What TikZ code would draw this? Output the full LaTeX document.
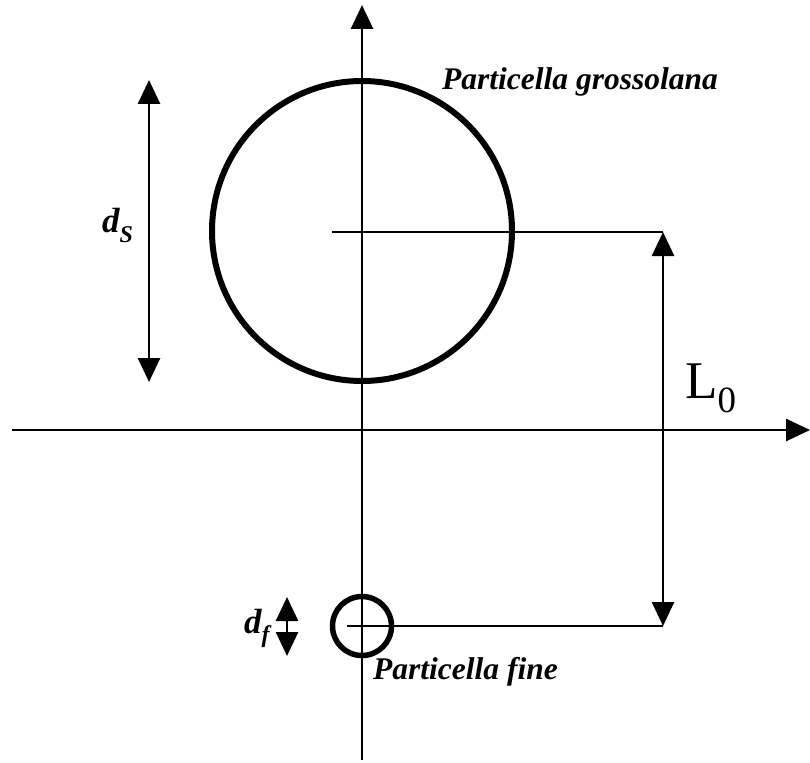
\documentclass[tikz,border=0pt]{standalone}
\usepackage{fontspec}
\setmainfont{Liberation Serif}
\usetikzlibrary{arrows.meta}
\tikzset{
  axis/.style={line width=2.7pt},
  thin line/.style={line width=2.7pt},
  particle/.style={circle, draw, line width=6pt, inner sep=0pt},
  bigtip/.style={-{Triangle[width=22pt,length=24pt]}},
  dbltip/.style={{Triangle[width=22pt,length=24pt]}-{Triangle[width=22pt,length=24pt]}},
  lbl/.style={inner sep=0pt, font=\fontsize{31.5}{36}\selectfont\bfseries\itshape},
  symlbl/.style={inner sep=0pt, font=\fontsize{35}{40}\selectfont\bfseries\itshape},
}
\begin{document}
\begin{tikzpicture}[x=1pt,y=-1pt]
\useasboundingbox (0,0) rectangle (810,762);
% axes
\coordinate (yb) at (362,760);
\coordinate (yt) at (362,5);
\coordinate (xl) at (12,430);
\coordinate (xr) at (810,430);
\draw[axis,bigtip] (yb) -- (yt);
\draw[axis,bigtip] (xl) -- (xr);
% particles
\node[particle, minimum size=300pt] (big) at (362,231) {};
\node[particle, line width=5.5pt, minimum size=59pt] (small) at (362,626) {};
% reference lines
\coordinate (bigL) at (332,232);
\coordinate (bigR) at (663,232);
\coordinate (smL) at (347,626);
\coordinate (smR) at (663,626);
\draw[thin line] (bigL) -- (bigR);
\draw[thin line] (smL) -- (smR);
\draw[thin line,dbltip] (bigR) -- (smR);
% ds arrow
\coordinate (dsT) at (149,80);
\coordinate (dsB) at (149,382);
\draw[thin line,dbltip] (dsT) -- (dsB);
% df arrow
\coordinate (dfM1) at (287,618);
\coordinate (dfM2) at (287,634);
\coordinate (dfT) at (287,597);
\coordinate (dfB) at (287,656);
\draw[thin line,bigtip] (dfM2) -- (dfT);
\draw[thin line,bigtip] (dfM1) -- (dfB);
% labels
\node[lbl, anchor=base west] (lgross) at (442,90) {Particella grossolana};
\node[lbl, anchor=base west] (lfine) at (373,679) {Particella fine};
\node[symlbl, anchor=base west] (lds) at (102,232) {d\raisebox{-10pt}{\fontsize{24}{28}\selectfont S}};
\node[symlbl, anchor=base west] (ldf) at (244,633) {d\raisebox{-9pt}{\fontsize{24}{28}\selectfont f}};
\node[inner sep=0pt, anchor=base west, font=\fontsize{53}{60}\selectfont] (lL) at (685,398) {L\raisebox{-14pt}{\fontsize{37}{42}\selectfont 0}};
\end{tikzpicture}
\end{document}
